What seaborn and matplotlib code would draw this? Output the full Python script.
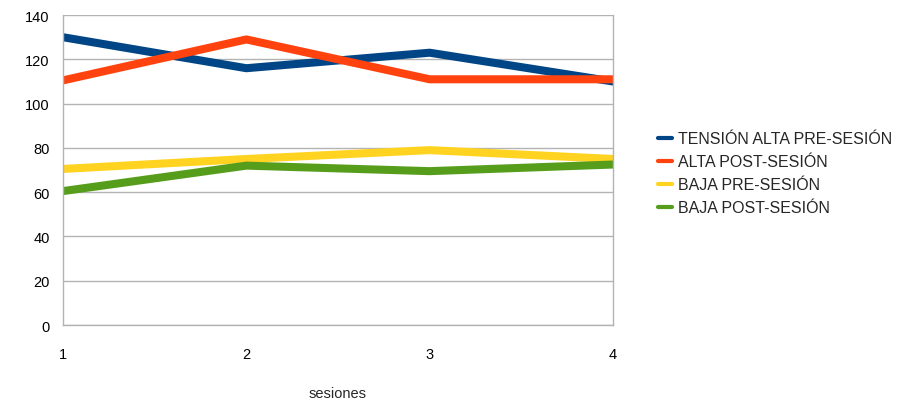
import seaborn as sns
import matplotlib.pyplot as plt
import pandas as pd

# datos
sesiones = [1, 2, 3, 4]
alta_pre = [130, 116, 123, 110]
alta_post = [110.5, 129, 111, 111]
baja_pre = [70.5, 75, 79, 75]
baja_post = [60.5, 72, 69.5, 72.5]

series = ["TENSIÓN ALTA PRE-SESIÓN", "ALTA POST-SESIÓN",
          "BAJA PRE-SESIÓN", "BAJA POST-SESIÓN"]
colores = ["#004586", "#ff420e", "#ffd320", "#579d1c"]

df = pd.DataFrame({
    "sesiones": sesiones * 4,
    "valor": alta_pre + alta_post + baja_pre + baja_post,
    "serie": [s for s in series for _ in sesiones],
})

sns.set_style("white")
plt.rcParams["font.family"] = ["Liberation Sans", "DejaVu Sans"]

fig = plt.figure(figsize=(9.08, 4.02), dpi=100)
ax = fig.add_axes([0.0694, 0.189, 0.6057, 0.771])

sns.lineplot(data=df, x="sesiones", y="valor", hue="serie",
             hue_order=series, palette=colores, linewidth=5.8,
             ax=ax, legend=True)

ax.set_xlim(1, 4)
ax.set_ylim(0, 140)
ax.set_xticks(sesiones)
ax.set_yticks(range(0, 141, 20))
ax.yaxis.grid(True, color="#b3b3b3", linewidth=1)
ax.xaxis.grid(False)
ax.set_axisbelow(True)

ax.spines["top"].set_visible(False)
for side in ["left", "bottom", "right"]:
    ax.spines[side].set_color("#b3b3b3")
    ax.spines[side].set_linewidth(1)

ax.tick_params(axis="both", which="both", length=6, color="#b3b3b3",
               labelsize=10.5, labelcolor="black", direction="out")
ax.tick_params(axis="x", pad=10)
ax.set_xlabel("sesiones", fontsize=10.5, labelpad=18)
ax.set_ylabel("")

leg = ax.legend(loc="center left", bbox_to_anchor=(1.055, 0.49),
                frameon=False, fontsize=11.5, handlelength=0.9,
                handletextpad=0.4, labelspacing=0.5)
for line in leg.get_lines():
    line.set_linewidth(3)

fig.savefig("out.png", dpi=100)
